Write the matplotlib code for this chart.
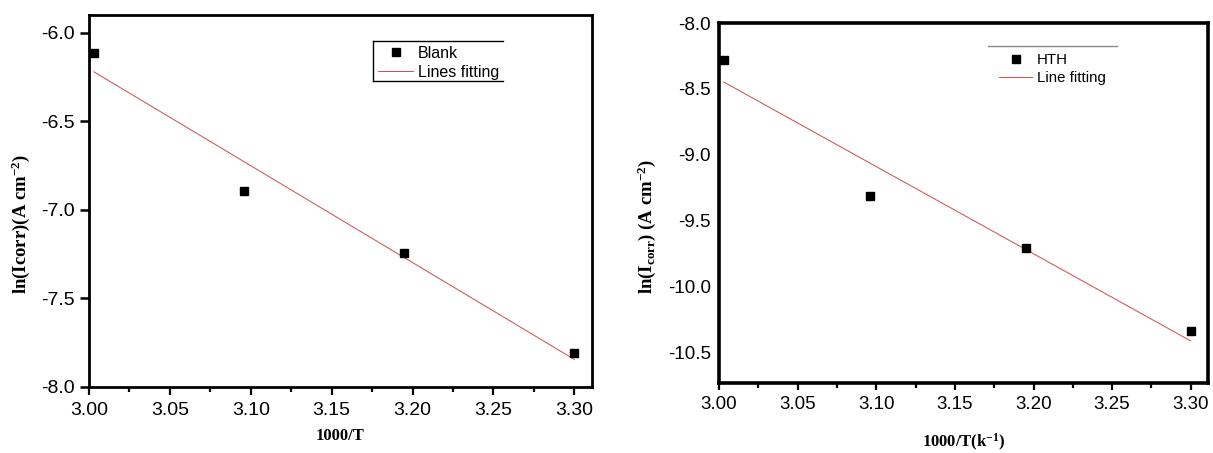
import numpy as np
import matplotlib
matplotlib.use("Agg")
import matplotlib.pyplot as plt
from matplotlib.ticker import MultipleLocator, FormatStrFormatter
from matplotlib.lines import Line2D

# ---- data ----
inv_T = [3.003, 3.096, 3.195, 3.300]          # 1000/T
ln_icorr_blank = [-6.117, -6.894, -7.243, -7.810]
ln_icorr_hth = [-8.281, -9.312, -9.712, -10.343]

blank_label = "Blank"
blank_fit_label = "Lines fitting"
hth_label = "HTH"
hth_fit_label = "Line fitting"

xticks = [3.00, 3.05, 3.10, 3.15, 3.20, 3.25, 3.30]
yticks_left = [-8.0, -7.5, -7.0, -6.5, -6.0]
yticks_right = [-10.5, -10.0, -9.5, -9.0, -8.5, -8.0]

plt.rcParams['font.family'] = ['Liberation Sans', 'DejaVu Sans']
plt.rcParams['mathtext.fontset'] = 'custom'
plt.rcParams['mathtext.rm'] = 'Liberation Serif:bold'
plt.rcParams['mathtext.it'] = 'Liberation Serif:bold'
plt.rcParams['mathtext.bf'] = 'Liberation Serif:bold'

fig = plt.figure(figsize=(12.13, 4.53), dpi=100)
ax1 = fig.add_axes([0.0734, 0.1457, 0.4147, 0.8212])
ax2 = fig.add_axes([0.5928, 0.1545, 0.4031, 0.7947])

fit_color = '#d04a4a'
x = np.array(inv_T)

def draw(ax, y, lab, fitlab):
    y = np.array(y)
    k, b = np.polyfit(x, y, 1)
    xf = np.array([x.min(), x.max()])
    ax.plot(x, y, 's', color='black', markersize=5.8, label=lab, zorder=3, clip_on=False)
    ax.plot(xf, k * xf + b, '-', color=fit_color, lw=0.7, label=fitlab, zorder=2)

draw(ax1, ln_icorr_blank, blank_label, blank_fit_label)
draw(ax2, ln_icorr_hth, hth_label, hth_fit_label)

ax1.set_xlim(3.0, 3.311)
ax1.set_ylim(-8.0, -5.9)
ax2.set_xlim(3.0, 3.311)
ax2.set_ylim(-10.735, -8.0)

for ax, yt, lw in ((ax1, yticks_left, 2.0), (ax2, yticks_right, 2.6)):
    ax.set_xticks(xticks)
    ax.set_yticks(yt)
    ax.xaxis.set_minor_locator(MultipleLocator(0.025))
    ax.xaxis.set_major_formatter(FormatStrFormatter('%.2f'))
    ax.yaxis.set_major_formatter(FormatStrFormatter('%.1f'))
    for s in ax.spines.values():
        s.set_linewidth(lw)
    ax.tick_params(axis='x', which='minor', direction='out', length=3.5, width=1.6)

ax1.tick_params(axis='x', which='major', direction='out', length=6, width=1.6,
                labelsize=14, pad=4.5)
ax1.tick_params(axis='y', which='major', direction='out', length=6.5, width=1.8,
                labelsize=14, pad=3.5)
ax2.tick_params(axis='x', which='major', direction='out', length=5, width=1.6,
                labelsize=13.5, pad=4)
ax2.tick_params(axis='y', which='major', length=0, labelsize=13.5, pad=6)

xlab_font = dict(family='Liberation Serif', fontweight='bold', fontsize=12)
ylab_font = dict(family='Liberation Serif', fontweight='bold', fontsize=13.5)
ax1.set_xlabel('1000/T', **xlab_font)
ax1.set_ylabel(r'ln(Icorr)(A cm$^{-2}$)', **ylab_font)
ax2.set_xlabel(r'1000/T(k$^{-1}$)', **xlab_font)
ax2.set_ylabel(r'ln(I$_{corr}$) (A cm$^{-2}$)', **ylab_font)
ax1.xaxis.set_label_coords(0.5, -0.11)
ax2.xaxis.set_label_coords(0.5, -0.137)
ax1.yaxis.set_label_coords(-0.113, 0.438)
ax2.yaxis.set_label_coords(-0.125, 0.436)

# legends
leg1 = ax1.legend(loc='upper left', bbox_to_anchor=(0.5746, 0.917), frameon=False,
                  fontsize=11.5, handlelength=2.2, handletextpad=0.3,
                  borderaxespad=0, borderpad=0, labelspacing=0.25)
leg2 = ax2.legend(loc='upper left', bbox_to_anchor=(0.5726, 0.917), frameon=False,
                  fontsize=10.8, handlelength=2.2, handletextpad=0.3,
                  borderaxespad=0, borderpad=0, labelspacing=0.3)

# partial legend frames (top, left, bottom on left panel; top line on right panel)
tr = ax1.transAxes
for xs, ys in (([0.5646, 0.823], [0.930, 0.930]),
               ([0.5646, 0.5646], [0.930, 0.8226]),
               ([0.5646, 0.823], [0.8226, 0.8226])):
    ax1.add_line(Line2D(xs, ys, transform=tr, color='black', lw=1.0, zorder=5))
ax2.add_line(Line2D([0.551, 0.813], [0.936, 0.936], transform=ax2.transAxes,
                    color='#888888', lw=1.0, zorder=5))

fig.savefig('out.png', dpi=100)
